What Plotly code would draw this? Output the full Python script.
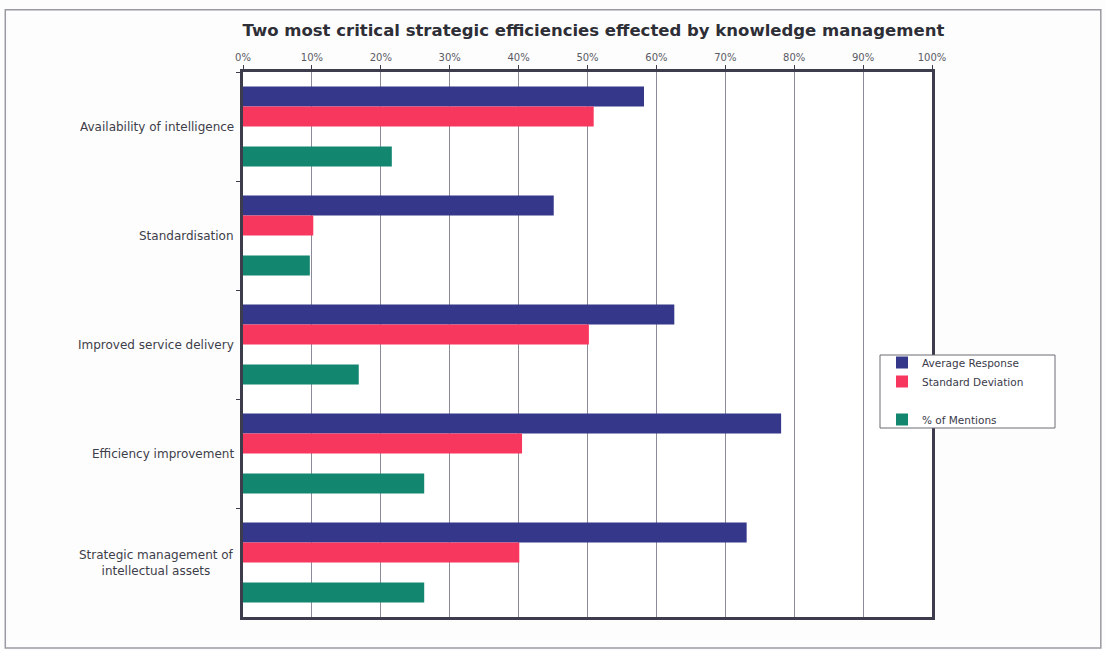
import plotly.graph_objects as go

# Survey results: strategic efficiencies affected by knowledge management
categories = [
    "Availability of intelligence",
    "Standardisation",
    "Improved service delivery",
    "Efficiency improvement",
    "Strategic management of<br>intellectual assets",
]
average_response = [0.582, 0.451, 0.626, 0.781, 0.731]
standard_deviation = [0.509, 0.102, 0.502, 0.405, 0.401]
pct_mentions = [0.216, 0.097, 0.168, 0.263, 0.263]
spacer = [None, None, None, None, None]

x_ticks = [i / 10 for i in range(11)]
x_tick_labels = [f"{i * 10}%" for i in range(11)]

series = [
    ("Average Response", average_response, "#34378a"),
    ("Standard Deviation", standard_deviation, "#f8375f"),
    (" ", spacer, "rgba(0,0,0,0)"),
    ("% of Mentions", pct_mentions, "#138670"),
]

FONT = "DejaVu Sans, Verdana, sans-serif"
FRAME = "#3c3c4c"

# Plot-area geometry in pixels, used to place the legend panel
PLOT_L, PLOT_W, PLOT_B, PLOT_H = 243, 689, 617, 545


def px_x(px):
    return (px - PLOT_L) / PLOT_W


def px_y(py):
    return (PLOT_B - py) / PLOT_H


fig = go.Figure()
for name, vals, color in series:
    fig.add_trace(go.Bar(
        y=categories, x=vals, name=name, orientation="h",
        marker=dict(color=color, line=dict(width=0)),
        hoverinfo="x+name",
    ))

# Category labels, centred line by line and right-aligned against the axis
for cat in categories:
    fig.add_annotation(
        x=0, y=cat, xref="paper", yref="y", xanchor="right", yanchor="middle",
        xshift=-7, text=cat, showarrow=False, align="center",
        font=dict(family=FONT, size=12, color="#3e3e4a"),
    )

# Thin outer page border
fig.add_shape(type="rect", xref="paper", yref="paper",
              x0=-0.345, x1=1.245, y0=-0.057, y1=1.114,
              line=dict(color="#9a9aa2", width=1.5), layer="below")

# Legend panel
fig.add_shape(type="rect", xref="paper", yref="paper",
              x0=px_x(880), x1=px_x(1055), y0=px_y(428), y1=px_y(355),
              fillcolor="#ffffff", line=dict(color="#6a6a74", width=1),
              layer="above")

fig.update_layout(
    width=1105, height=651,
    margin=dict(l=243, r=173, t=72, b=34),
    paper_bgcolor="#fdfdfd", plot_bgcolor="#ffffff",
    barmode="group", bargap=0.265, bargroupgap=0,
    title=dict(
        text="<b>Two most critical strategic efficiencies effected by knowledge management</b>",
        x=0.537, xref="container", xanchor="center",
        y=1 - 30 / 651, yref="container", yanchor="middle",
        font=dict(family=FONT, size=16.5, color="#2e2e36"),
    ),
    xaxis=dict(
        side="top", range=[0, 1], tickvals=x_ticks, ticktext=x_tick_labels,
        showgrid=True, gridcolor="#8a8a9a", gridwidth=1,
        showline=True, linecolor=FRAME, linewidth=3, mirror=True,
        ticks="outside", ticklen=4, tickcolor=FRAME, tickwidth=1,
        tickfont=dict(family=FONT, size=10, color="#5a5a64"),
        zeroline=False, fixedrange=True,
    ),
    yaxis=dict(
        autorange="reversed", showticklabels=False,
        showline=True, linecolor=FRAME, linewidth=3, mirror=True,
        ticks="outside", ticklen=4, tickcolor=FRAME, tickson="boundaries",
        showgrid=False, fixedrange=True,
    ),
    legend=dict(
        x=px_x(882), y=px_y(348), xref="paper", yref="paper",
        xanchor="left", yanchor="top",
        bgcolor="rgba(0,0,0,0)", borderwidth=0,
        font=dict(family=FONT, size=10.5, color="#3a3a4a"),
        itemwidth=30, tracegroupgap=0,
        traceorder="normal",
    ),
    showlegend=True,
)

fig.write_html("out.html")
